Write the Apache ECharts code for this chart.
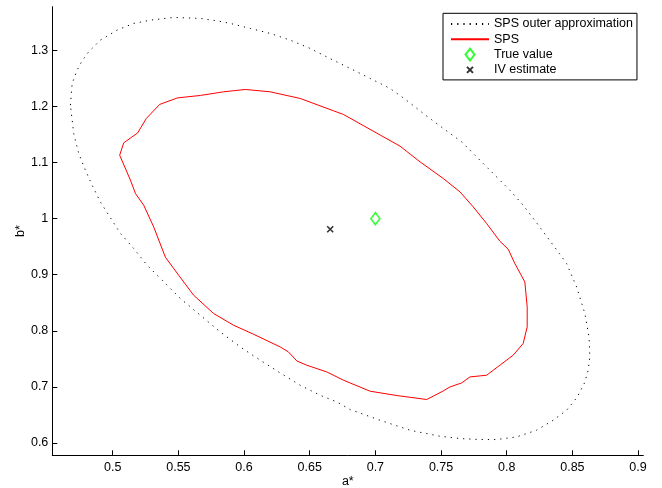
<!DOCTYPE html>
<html>
<head>
<meta charset="utf-8">
<script src="https://cdn.jsdelivr.net/npm/echarts@6/dist/echarts.min.js"></script>
<style>html,body{margin:0;padding:0;background:#fff}#c{width:662px;height:488px}</style>
</head>
<body>
<div id="c"></div>
<script>
// SPS outer approximation (dotted ellipse)
var outerA = [0.4678,0.4691,0.4729,0.4770,0.4817,0.4906,0.5033,0.5160,0.5287,0.5464,0.5667,0.5794,0.5895,0.6048,0.6199,0.6351,0.6503,0.6653,0.6808,0.6960,0.7112,0.7226,0.7365,0.7517,0.7657,0.7783,0.7897,0.8024,0.8125,0.8227,0.8354,0.8456,0.8532,0.8595,0.8627,0.8633,0.8620,0.8595,0.8538,0.8456,0.8354,0.8227,0.8075,0.7923,0.7796,0.7644,0.7492,0.7264,0.7036,0.6808,0.6706,0.6579,0.6427,0.6275,0.6085,0.5971,0.5819,0.5667,0.5515,0.5363,0.5262,0.5160,0.5059,0.4970,0.4906,0.4843,0.4792,0.4741,0.4703,0.4678];
var outerB = [1.2024,1.2411,1.2649,1.2827,1.2975,1.3184,1.3362,1.3482,1.3540,1.3589,1.3571,1.3528,1.3482,1.3392,1.3303,1.3184,1.3036,1.2857,1.2679,1.2501,1.2322,1.2131,1.1876,1.1609,1.1370,1.1073,1.0806,1.0508,1.0240,0.9928,0.9527,0.9200,0.8783,0.8309,0.7886,0.7534,0.7297,0.7083,0.6821,0.6584,0.6405,0.6227,0.6107,0.6061,0.6061,0.6079,0.6120,0.6227,0.6405,0.6596,0.6732,0.6851,0.7030,0.7249,0.7534,0.7713,0.7980,0.8278,0.8576,0.8933,0.9170,0.9468,0.9736,1.0062,1.0299,1.0597,1.0865,1.1163,1.1519,1.2024];
// SPS region boundary (red)
var spsA = [0.5053,0.5084,0.5190,0.5256,0.5357,0.5494,0.5667,0.5844,0.6009,0.6199,0.6427,0.6757,0.7188,0.7340,0.7517,0.7644,0.7745,0.7847,0.7948,0.8011,0.8062,0.8138,0.8156,0.8156,0.8125,0.8049,0.7948,0.7847,0.7720,0.7657,0.7568,0.7517,0.7391,0.7163,0.6960,0.6757,0.6630,0.6478,0.6402,0.6338,0.6275,0.6072,0.5920,0.5768,0.5616,0.5502,0.5401,0.5312,0.5236,0.5173,0.5135,0.5053];
var spsB = [1.1132,1.1352,1.1530,1.1787,1.2037,1.2154,1.2197,1.2262,1.2304,1.2262,1.2144,1.1858,1.1293,1.1013,1.0717,1.0478,1.0210,0.9914,0.9598,0.9456,0.9200,0.8872,0.8426,0.8070,0.7773,0.7565,0.7386,0.7208,0.7178,0.7071,0.6999,0.6928,0.6775,0.6846,0.6923,0.7119,0.7267,0.7386,0.7463,0.7624,0.7713,0.7939,0.8100,0.8309,0.8635,0.8992,0.9313,0.9853,1.0240,1.0449,1.0686,1.1132];
var trueValue = [0.7, 1.0];
var ivEstimate = [0.6656, 0.9812];
var xTicks = [0.5,0.55,0.6,0.65,0.7,0.75,0.8,0.85,0.9];
var yTicks = [0.6,0.7,0.8,0.9,1,1.1,1.2,1.3];

function zip(a, b) { return a.map(function (v, i) { return [v, b[i]]; }); }

var FONT = 'Liberation Sans, Arial, Helvetica, sans-serif';
var chart = echarts.init(document.getElementById('c'), null, {renderer: 'canvas'});
var axisCommon = {
  type: 'value',
  axisLine: {show: true, lineStyle: {color: '#000', width: 1}},
  axisTick: {show: true, inside: true, length: 5, lineStyle: {color: '#000'}},
  splitLine: {show: false},
  nameMoveOverlap: false,
  nameTextStyle: {color: '#000', fontSize: 12.5, fontFamily: FONT}
};
var DIAMOND = 'path://M4.5,0L9,6L4.5,12L0,6Z';
var CROSS_LEG = 'path://M-3,-3M0,0L6,6M6,0L0,6M9,9';
chart.setOption({
  animation: false,
  backgroundColor: '#fff',
  grid: {left: 52.3, right: 18.7, top: 6.7, bottom: 32.7, containLabel: false, outerBoundsMode: 'none'},
  xAxis: Object.assign({}, axisCommon, {
    min: 0.454, max: 0.904,
    name: 'a*', nameLocation: 'middle', nameGap: 20,
    axisTick: Object.assign({}, axisCommon.axisTick, {customValues: xTicks}),
    axisLabel: {customValues: xTicks, color: '#000', fontSize: 12.5, fontFamily: FONT, margin: 6}
  }),
  yAxis: Object.assign({}, axisCommon, {
    min: 0.578, max: 1.378,
    name: 'b*', nameLocation: 'middle', nameGap: 25, nameRotate: 90,
    axisTick: Object.assign({}, axisCommon.axisTick, {customValues: yTicks}),
    axisLabel: {customValues: yTicks, color: '#000', fontSize: 12.5, fontFamily: FONT, margin: 4}
  }),
  legend: {
    orient: 'vertical', left: 443, top: 13.3,
    padding: [3.7, 4, 3, 7],
    itemWidth: 38, itemHeight: 12, itemGap: 1.3,
    symbolKeepAspect: true,
    borderColor: '#000', borderWidth: 1, backgroundColor: '#fff',
    textStyle: {color: '#000', fontSize: 12.5, fontFamily: FONT, lineHeight: 14},
    data: [
      {name: 'SPS outer approximation', itemStyle: {opacity: 0, color: 'rgba(0,0,0,0)', borderWidth: 0}},
      {name: 'SPS', itemStyle: {opacity: 0, color: 'rgba(0,0,0,0)', borderWidth: 0}},
      {name: 'True value', icon: DIAMOND},
      {name: 'IV estimate', icon: CROSS_LEG}
    ]
  },
  series: [
    {
      name: 'SPS outer approximation', type: 'line', data: zip(outerA, outerB),
      showSymbol: false, symbol: 'none', smooth: false,
      lineStyle: {color: '#000', width: 1, type: [1.2, 5]},
      itemStyle: {color: '#000'}
    },
    {
      name: 'SPS', type: 'line', data: zip(spsA, spsB),
      showSymbol: false, symbol: 'none', smooth: false,
      lineStyle: {color: '#ff0000', width: 1},
      itemStyle: {color: '#ff0000'}
    },
    {
      name: 'True value', type: 'scatter', data: [trueValue],
      symbol: 'diamond', symbolSize: [9, 12],
      itemStyle: {color: 'rgba(0,0,0,0)', borderColor: '#00ff00', borderWidth: 1.6}
    },
    {
      name: 'IV estimate', type: 'scatter', data: [ivEstimate],
      symbol: 'path://M0,0L10,10M10,0L0,10', symbolSize: 6,
      itemStyle: {color: 'rgba(0,0,0,0)', borderColor: '#000', borderWidth: 1.6}
    }
  ]
});
</script>
</body>
</html>
